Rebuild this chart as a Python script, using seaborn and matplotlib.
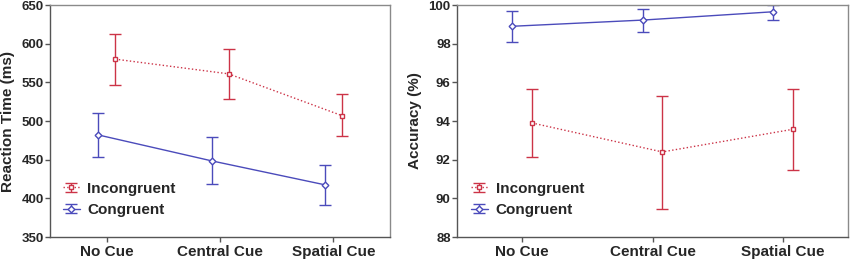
import numpy as np
import pandas as pd
import seaborn as sns
import matplotlib.pyplot as plt
from matplotlib.container import ErrorbarContainer
from matplotlib.legend_handler import HandlerTuple, HandlerErrorbar

cues = ['No Cue', 'Central Cue', 'Spatial Cue']
conds = ['Congruent', 'Incongruent']

# reaction time (ms): mean, lower, upper
rt_con = [482, 448.5, 417.5]
rt_con_lo = [454, 418, 391.5]
rt_con_hi = [510, 479, 443.5]
rt_inc = [580, 561, 507]
rt_inc_lo = [547, 529, 480]
rt_inc_hi = [613, 593, 535]

# accuracy (%)
acc_con = [98.9, 99.22, 99.65]
acc_con_lo = [98.1, 98.62, 99.24]
acc_con_hi = [99.67, 99.8, 99.98]
acc_inc = [93.9, 92.4, 93.57]
acc_inc_lo = [92.14, 89.47, 91.44]
acc_inc_hi = [95.66, 95.3, 95.66]

red = '#cc3347'
blue = '#4b4bbb'

sns.set_style('ticks')
plt.rcParams['font.family'] = ['Liberation Sans', 'DejaVu Sans']
plt.rcParams['font.weight'] = 'bold'

fig = plt.figure(figsize=(8.51, 2.62), dpi=100)
ax1 = fig.add_axes([0.0588, 0.0954, 0.3995, 0.8855])
ax2 = fig.add_axes([0.537, 0.0954, 0.4595, 0.8855])


def panel(ax, con, con_lo, con_hi, inc, inc_lo, inc_hi, ylim, yticks, ylabel, lx):
    df = pd.DataFrame({
        'cue': cues * 2,
        'cond': ['Congruent'] * 3 + ['Incongruent'] * 3,
        'val': list(con) + list(inc),
    })
    sns.pointplot(data=df, x='cue', y='val', hue='cond', hue_order=conds,
                  order=cues, dodge=0.15, markers=['D', 's'],
                  linestyles=['-', ':'], palette=[blue, red], errorbar=None,
                  linewidth=1.0, markersize=3.4, markeredgewidth=1.0,
                  markerfacecolor='white', legend=False, ax=ax)
    lines = ax.lines[:2]
    bars = []
    for line, m, lo, hi, c in zip(lines, [con, inc], [con_lo, inc_lo],
                                  [con_hi, inc_hi], [blue, red]):
        m = np.array(m)
        err = [m - np.array(lo), np.array(hi) - m]
        eb = ax.errorbar(line.get_xdata(), m, yerr=err, fmt='none', ecolor=c,
                         elinewidth=1.0, capsize=4.5, capthick=1.0, zorder=1)
        bars.append(eb)
    ax.set_xlim(-0.5, 2.5)
    ax.set_ylim(*ylim)
    ax.set_yticks(yticks)
    ax.set_xlabel('')
    ax.set_ylabel(ylabel, fontsize=11, fontweight='bold', labelpad=5)
    ax.tick_params(axis='y', labelsize=9.5, length=3.5, pad=1, width=1, color='#555555')
    ax.tick_params(axis='x', labelsize=11, length=3.5, pad=2.5, width=1, color='#555555')
    for t in ax.get_xticklabels() + ax.get_yticklabels():
        t.set_fontweight('bold')
    for s in ['left', 'bottom']:
        ax.spines[s].set_color('#555555')
        ax.spines[s].set_linewidth(1.0)
    for s in ['top', 'right']:
        ax.spines[s].set_color('#8a8a8a')
        ax.spines[s].set_linewidth(1.0)
    ax.legend([(bars[1], lines[1]), (bars[0], lines[0])], ['Incongruent', 'Congruent'],
              handler_map={tuple: HandlerTuple(ndivide=1),
                           ErrorbarContainer: HandlerErrorbar(xerr_size=0.3)},
              loc='center left', bbox_to_anchor=(lx, 0.162), frameon=False,
              borderaxespad=0, borderpad=0, handlelength=1.1, handletextpad=0.5,
              labelspacing=0.5, prop={'size': 11, 'weight': 'bold'})


panel(ax1, rt_con, rt_con_lo, rt_con_hi, rt_inc, rt_inc_lo, rt_inc_hi,
      (350, 650), [350, 400, 450, 500, 550, 600, 650], 'Reaction Time (ms)', 0.038)
panel(ax2, acc_con, acc_con_lo, acc_con_hi, acc_inc, acc_inc_lo, acc_inc_hi,
      (88, 100), [88, 90, 92, 94, 96, 98, 100], 'Accuracy (%)', 0.036)

fig.savefig('out.png', dpi=100)
